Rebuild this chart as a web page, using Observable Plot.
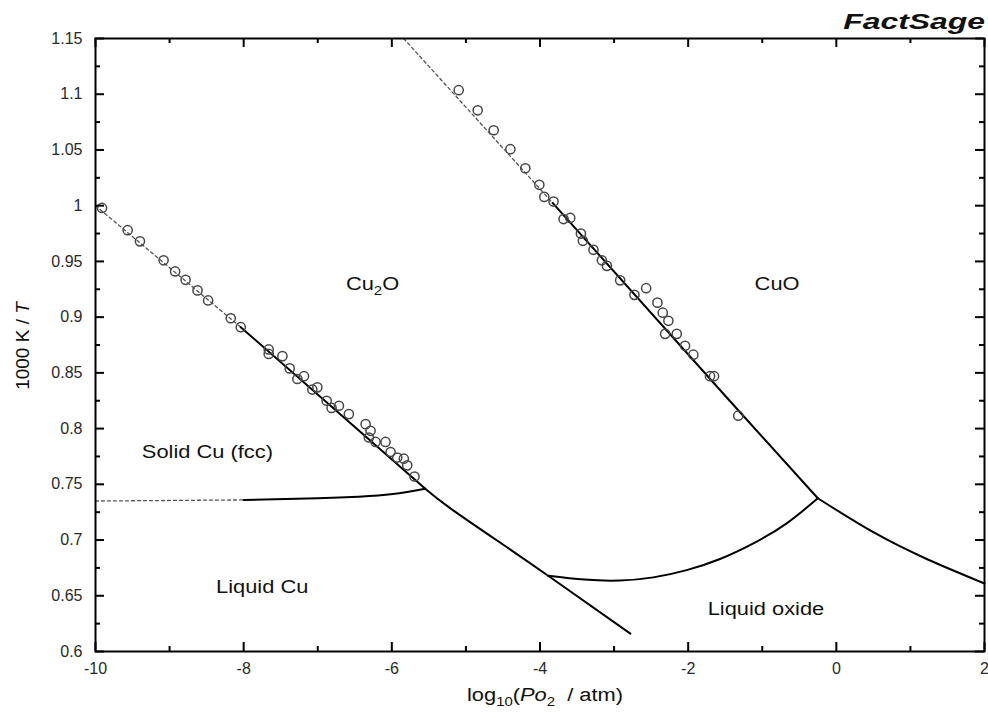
<!DOCTYPE html>
<html><head><meta charset="utf-8">
<script src="https://cdn.jsdelivr.net/npm/d3@7"></script>
<script src="https://cdn.jsdelivr.net/npm/@observablehq/plot@0.6"></script>
<style>
body{margin:0;background:#fff}
#chart svg{font-family:"Liberation Sans",Arial,sans-serif;display:block}
</style>
</head><body><div id="chart"></div>
<script>
// ---- axis ticks ----
const xTicks = [-10, -8, -6, -4, -2, 0, 2];
const xMinorTicks = [-9, -7, -5, -3, -1, 1];
const yTicks = [0.6, 0.65, 0.7, 0.75, 0.8, 0.85, 0.9, 0.95, 1, 1.05, 1.1, 1.15];
const yMinorTicks = [0.625, 0.675, 0.725, 0.775, 0.825, 0.875, 0.925, 0.975, 1.025, 1.075, 1.125];

// ---- phase boundaries (log10 pO2, 1000/T) ----
const cuCu2oDashedX = [-10, -8.04];
const cuCu2oDashedY = [1.0, 0.891];
const cuCu2oSolidX = [-8.04, -6.8, -5.55];
const cuCu2oSolidY = [0.891, 0.819, 0.746];
const liqCuCu2oX = [-5.55, -5.2, -4.5, -3.89, -2.78];
const liqCuCu2oY = [0.746, 0.728, 0.696, 0.668, 0.616];
const fccLiqDashedX = [-10, -8];
const fccLiqDashedY = [0.735, 0.736];
const fccLiqSolidX = [-8, -7.0, -6.3, -5.9, -5.55];
const fccLiqSolidY = [0.736, 0.7375, 0.7395, 0.7420, 0.746];
const cu2oCuoDashedX = [-5.84, -3.83];
const cu2oCuoDashedY = [1.15, 1.0025];
const cu2oCuoSolidX = [-3.83, -1.44, -0.25];
const cu2oCuoSolidY = [1.0025, 0.825, 0.7375];
const cu2oLiqOxX = [-3.89, -3.4, -2.92, -2.47, -2.02, -1.57, -1.12, -0.67, -0.25];
const cu2oLiqOxY = [0.668, 0.6645, 0.6637, 0.6665, 0.6730, 0.6830, 0.6970, 0.7150, 0.7375];
const cuoLiqOxX = [-0.25, 0.5, 1.22, 2];
const cuoLiqOxY = [0.7375, 0.707, 0.683, 0.661];

// ---- experimental points ----
const expCuX = [-9.912, -9.566, -9.400, -9.081, -8.925, -8.784, -8.623, -8.480, -8.174, -8.039, -7.662, -7.662, -7.477, -7.379, -7.275, -7.186, -7.073, -7.005, -6.880, -6.813, -6.714, -6.580, -6.354, -6.287, -6.310, -6.220, -6.085, -6.017, -5.927, -5.838, -5.792, -5.694];
const expCuY = [0.998, 0.978, 0.968, 0.951, 0.941, 0.9335, 0.924, 0.915, 0.899, 0.891, 0.871, 0.867, 0.865, 0.854, 0.8445, 0.847, 0.835, 0.837, 0.825, 0.8185, 0.8205, 0.813, 0.804, 0.798, 0.792, 0.788, 0.788, 0.779, 0.774, 0.773, 0.767, 0.757];
const expCu2oX = [-5.097, -4.841, -4.625, -4.400, -4.198, -4.009, -3.942, -3.817, -3.682, -3.592, -3.448, -3.421, -3.278, -3.165, -3.097, -2.918, -2.725, -2.567, -2.415, -2.343, -2.267, -2.311, -2.154, -2.042, -1.930, -1.705, -1.651, -1.324];
const expCu2oY = [1.1036, 1.0856, 1.0677, 1.0507, 1.0336, 1.0187, 1.0079, 1.0037, 0.988, 0.989, 0.975, 0.9685, 0.9604, 0.951, 0.946, 0.933, 0.920, 0.926, 0.913, 0.904, 0.8967, 0.885, 0.885, 0.8743, 0.8663, 0.847, 0.847, 0.8116];

// ---- region labels ----
const regionNames = ["Cu2O", "CuO", "Solid Cu (fcc)", "Liquid Cu", "Liquid oxide"];
const regionX = [-6.26, -0.80, -8.49, -7.75, -0.95];
const regionY = [0.930, 0.930, 0.779, 0.658, 0.638];

const pts = (xs, ys) => xs.map((x, i) => ({x, y: ys[i]}));
const regions = regionNames.map((t, i) => ({t, x: regionX[i], y: regionY[i]}));

const solid = {x: "x", y: "y", stroke: "#000", strokeWidth: 2, curve: "natural"};
const dashed = {x: "x", y: "y", stroke: "#555", strokeWidth: 1.3, strokeDasharray: "3,3"};
const dotStyle = {x: "x", y: "y", r: 4.6, stroke: "#474747", strokeWidth: 1.5, fill: "none"};
const frameH = 651 - 38, frameW = 984 - 95;

const chart = Plot.plot({
  width: 988, height: 713,
  marginLeft: 95, marginRight: 4, marginTop: 38, marginBottom: 62,
  x: {domain: [-10, 2]},
  y: {domain: [0.6, 1.15]},
  style: {fontSize: "16px", fontFamily: "'Liberation Sans', Arial, sans-serif", color: "#2a2a2a", background: "#fff"},
  marks: [
    Plot.line(pts(cuCu2oDashedX, cuCu2oDashedY), dashed),
    Plot.line(pts(fccLiqDashedX, fccLiqDashedY), dashed),
    Plot.line(pts(cu2oCuoDashedX, cu2oCuoDashedY), dashed),
    Plot.line(pts(cuCu2oSolidX, cuCu2oSolidY), solid),
    Plot.line(pts(liqCuCu2oX, liqCuCu2oY), solid),
    Plot.line(pts(fccLiqSolidX, fccLiqSolidY), solid),
    Plot.line(pts(cu2oCuoSolidX, cu2oCuoSolidY), solid),
    Plot.line(pts(cu2oLiqOxX, cu2oLiqOxY), solid),
    Plot.line(pts(cuoLiqOxX, cuoLiqOxY), solid),
    Plot.dot(pts(expCuX, expCuY), dotStyle),
    Plot.dot(pts(expCu2oX, expCu2oY), dotStyle),
    Plot.text(regions, {x: "x", y: "y", text: "t", fontSize: 19, fill: "#111", className: "region"}),
    // inward ticks on all four sides
    Plot.ruleX(xTicks, {x: d => d, insetTop: frameH - 9, stroke: "#000", strokeWidth: 2}),
    Plot.ruleX(xTicks, {x: d => d, insetBottom: frameH - 9, stroke: "#000", strokeWidth: 2}),
    Plot.ruleX(xMinorTicks, {x: d => d, insetTop: frameH - 5, stroke: "#000", strokeWidth: 2}),
    Plot.ruleX(xMinorTicks, {x: d => d, insetBottom: frameH - 5, stroke: "#000", strokeWidth: 2}),
    Plot.ruleY(yTicks, {y: d => d, insetRight: frameW - 9, stroke: "#000", strokeWidth: 2}),
    Plot.ruleY(yTicks, {y: d => d, insetLeft: frameW - 9, stroke: "#000", strokeWidth: 2}),
    Plot.ruleY(yMinorTicks, {y: d => d, insetRight: frameW - 5, stroke: "#000", strokeWidth: 2}),
    Plot.ruleY(yMinorTicks, {y: d => d, insetLeft: frameW - 5, stroke: "#000", strokeWidth: 2}),
    Plot.axisX({ticks: xTicks, tickSize: 0, tickPadding: 11, label: null, tickFormat: d => String(d)}),
    Plot.axisY({ticks: yTicks, tickSize: 0, tickPadding: 13, label: null, tickFormat: d => String(+d.toFixed(3))}),
    Plot.frame({stroke: "#000", strokeWidth: 2})
  ]
});
document.getElementById("chart").appendChild(chart);

const svg = d3.select(chart);
// stretch region labels slightly, add subscript
svg.selectAll("g.region text, g[aria-label='text'] text").each(function() {
  const t = d3.select(this);
  t.attr("transform", (t.attr("transform") || "") + " scale(1.15,1)");
  if (this.textContent === "Cu2O") {
    this.textContent = "";
    t.append("tspan").text("Cu");
    t.append("tspan").attr("font-size", 13).attr("dy", 5).text("2");
    t.append("tspan").attr("dy", -5).text("O");
  }
});

// x-axis title
const xt = svg.append("text")
  .attr("transform", "translate(545,701) scale(1.15,1)")
  .attr("text-anchor", "middle").attr("font-size", 19).attr("fill", "#111")
  .style("white-space", "pre");
xt.append("tspan").text("log");
xt.append("tspan").attr("font-size", 13).attr("dy", 5).text("10");
xt.append("tspan").attr("dy", -5).text("(");
xt.append("tspan").attr("font-style", "italic").text("Po");
xt.append("tspan").attr("font-size", 13).attr("dy", 5).text("2");
xt.append("tspan").attr("dy", -5).text("  / atm)");

// y-axis title
const yt = svg.append("text")
  .attr("transform", "translate(29,346) rotate(-90)")
  .attr("text-anchor", "middle").attr("font-size", 19).attr("fill", "#111")
  .style("white-space", "pre");
yt.append("tspan").text("1000 K / ");
yt.append("tspan").attr("font-style", "italic").text("T");

// FactSage logo
svg.append("text")
  .attr("transform", "translate(985,29) scale(1.45,1)")
  .attr("text-anchor", "end").attr("font-size", 22)
  .attr("font-weight", "bold").attr("font-style", "italic").attr("fill", "#111")
  .text("FactSage");
</script>
</body></html>
